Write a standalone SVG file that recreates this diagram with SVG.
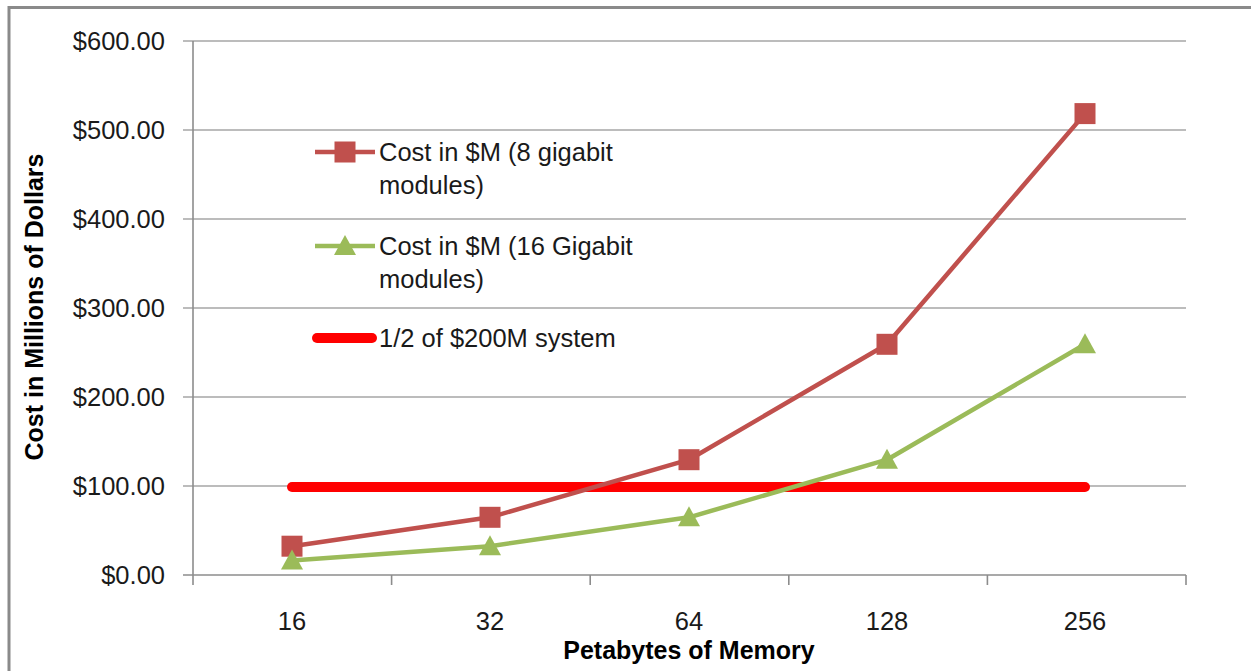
<svg xmlns="http://www.w3.org/2000/svg" width="1251" height="671" viewBox="0 0 1251 671">
  <style>
    .grid { stroke: #a6a6a6; stroke-width: 1.6; fill: none; }
    .axis { stroke: #8c8c8c; stroke-width: 1.6; fill: none; }
    .lbl { font-family: "Liberation Sans", Arial, sans-serif; font-size: 25.5px; fill: #1a1a1a; }
    .ttl { font-family: "Liberation Sans", Arial, sans-serif; font-size: 25px; font-weight: bold; fill: #000; }
    .s8 { stroke: #c0504d; stroke-width: 4.5; fill: none; stroke-linejoin: round; }
    .s16 { stroke: #9bbb59; stroke-width: 4.5; fill: none; stroke-linejoin: round; }
    .lim { stroke: #ff0000; stroke-width: 10; stroke-linecap: round; fill: none; }
  </style>
  <defs>
    <rect id="sq" x="-10.5" y="-10.5" width="21" height="21" fill="#c0504d"/>
    <polygon id="tri" points="0,-11 11,9 -11,9" fill="#9bbb59"/>
  </defs>

  <rect x="0" y="0" width="1251" height="671" fill="#fff"/>
  <!-- chart frame -->
  <path d="M9 680 V7.5 H1260" stroke="#8a8a8a" stroke-width="3" fill="none"/>

  <!-- gridlines -->
  <g id="grid">
    <line class="grid" x1="183" y1="41" x2="1186" y2="41"/>
    <line class="grid" x1="183" y1="130" x2="1186" y2="130"/>
    <line class="grid" x1="183" y1="219" x2="1186" y2="219"/>
    <line class="grid" x1="183" y1="308" x2="1186" y2="308"/>
    <line class="grid" x1="183" y1="397" x2="1186" y2="397"/>
    <line class="grid" x1="183" y1="486" x2="1186" y2="486"/>
  </g>

  <!-- axes -->
  <g id="axes">
    <line class="axis" x1="193" y1="41" x2="193" y2="585"/>
    <line class="axis" x1="183" y1="575" x2="1186" y2="575"/>
    <line class="axis" x1="391.6" y1="575" x2="391.6" y2="585"/>
    <line class="axis" x1="590.2" y1="575" x2="590.2" y2="585"/>
    <line class="axis" x1="788.8" y1="575" x2="788.8" y2="585"/>
    <line class="axis" x1="987.4" y1="575" x2="987.4" y2="585"/>
    <line class="axis" x1="1186" y1="575" x2="1186" y2="585"/>
  </g>

  <!-- y-axis labels -->
  <g id="ylabels" class="lbl" text-anchor="end">
    <text x="165" y="50">$600.00</text>
    <text x="165" y="139">$500.00</text>
    <text x="165" y="228">$400.00</text>
    <text x="165" y="317">$300.00</text>
    <text x="165" y="406">$200.00</text>
    <text x="165" y="495">$100.00</text>
    <text x="165" y="584">$0.00</text>
  </g>

  <!-- x-axis labels -->
  <g id="xlabels" class="lbl" text-anchor="middle">
    <text x="292" y="630">16</text>
    <text x="490" y="630">32</text>
    <text x="689" y="630">64</text>
    <text x="887" y="630">128</text>
    <text x="1085" y="630">256</text>
  </g>

  <!-- axis titles -->
  <text id="ytitle" class="ttl" text-anchor="middle" transform="translate(43,307) rotate(-90)">Cost in Millions of Dollars</text>
  <text id="xtitle" class="ttl" text-anchor="middle" x="689" y="659">Petabytes of Memory</text>

  <!-- data series -->
  <g id="connectors">
    <line id="limit" class="lim" x1="292" y1="487" x2="1085" y2="487"/>
    <polyline id="cost8" class="s8" points="292,546.2 490,517.3 689,459.7 887,344.3 1085,113.6"/>
    <polyline id="cost16" class="s16" points="292,560.6 490,546.2 689,517.3 887,459.7 1085,344.3"/>
  </g>

  <g id="markers8">
    <use href="#sq" x="292" y="546.2"/>
    <use href="#sq" x="490" y="517.3"/>
    <use href="#sq" x="689" y="459.7"/>
    <use href="#sq" x="887" y="344.3"/>
    <use href="#sq" x="1085" y="113.6"/>
  </g>
  <g id="markers16">
    <use href="#tri" x="292" y="560.6"/>
    <use href="#tri" x="490" y="546.2"/>
    <use href="#tri" x="689" y="517.3"/>
    <use href="#tri" x="887" y="459.7"/>
    <use href="#tri" x="1085" y="344.3"/>
  </g>

  <!-- legend -->
  <g id="legend">
    <g id="legend-cost8">
      <line class="s8" x1="315" y1="152" x2="375" y2="152"/>
      <use href="#sq" x="345" y="152"/>
      <text class="lbl" x="379" y="161">Cost in $M (8 gigabit</text>
      <text class="lbl" x="379" y="194">modules)</text>
    </g>
    <g id="legend-cost16">
      <line class="s16" x1="315" y1="246" x2="375" y2="246"/>
      <use href="#tri" x="345" y="246"/>
      <text class="lbl" x="379" y="255">Cost in $M (16 Gigabit</text>
      <text class="lbl" x="379" y="288">modules)</text>
    </g>
    <g id="legend-limit">
      <line class="lim" x1="317" y1="338" x2="372" y2="338"/>
      <text class="lbl" x="379" y="347">1/2 of $200M system</text>
    </g>
  </g>
</svg>
